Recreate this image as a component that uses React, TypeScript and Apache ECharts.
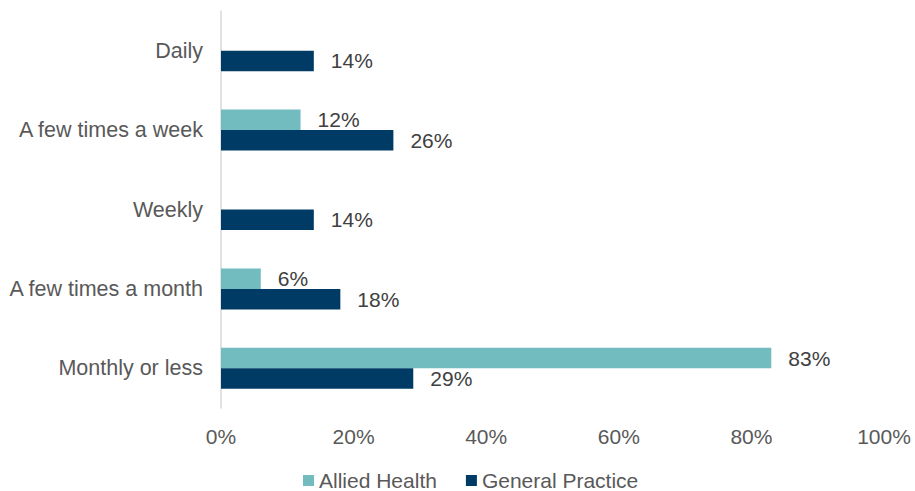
import React, { useEffect, useRef } from "react";
import * as echarts from "echarts";

const categories = ["Daily", "A few times a week", "Weekly", "A few times a month", "Monthly or less"];
const alliedHealth = [null, 12, null, 6, 83];
const generalPractice = [14, 26, 14, 18, 29];
const xTicks = [0, 20, 40, 60, 80, 100];

export default function App() {
  const ref = useRef<HTMLDivElement>(null);
  useEffect(() => {
    if (!ref.current) return;
    const chart = echarts.init(ref.current, null, { renderer: "svg" });
    const font = "'Liberation Sans', Arial, sans-serif";
    const labelCfg = {
      show: true,
      position: "right",
      distance: 17,
      formatter: (p: any) => (p.value == null ? "" : p.value + "%"),
      color: "#404040",
      fontSize: 21,
      fontFamily: font,
    };
    chart.setOption({
      animation: false,
      textStyle: { fontFamily: font },
      grid: { left: 221, right: 31, top: 11, bottom: 83, containLabel: false },
      legend: {
        top: 470,
        left: 298,
        padding: [0, 5, 0, 5],
        itemWidth: 11,
        itemHeight: 11,
        itemGap: 29,
        icon: "rect",
        textStyle: { color: "#595959", fontSize: 21, lineHeight: 21, fontFamily: font },
        data: ["Allied Health", "General Practice"],
      },
      xAxis: {
        type: "value",
        min: xTicks[0],
        max: xTicks[xTicks.length - 1],
        interval: 20,
        splitLine: { show: false },
        axisLine: { show: false },
        axisTick: { show: false },
        axisLabel: { formatter: "{value}%", color: "#595959", fontSize: 21, fontFamily: font, margin: 18 },
      },
      yAxis: {
        type: "category",
        inverse: true,
        data: categories,
        axisLine: { show: true, lineStyle: { color: "#d9d9d9", width: 1.5 } },
        axisTick: { show: false },
        axisLabel: { color: "#595959", fontSize: 21.5, fontFamily: font, margin: 18 },
      },
      series: [
        {
          name: "Allied Health",
          type: "bar",
          data: alliedHealth,
          barWidth: 20.5,
          barGap: "0%",
          itemStyle: { color: "#72BCC0" },
          label: labelCfg,
        },
        {
          name: "General Practice",
          type: "bar",
          data: generalPractice,
          barWidth: 20.5,
          barGap: "0%",
          itemStyle: { color: "#003B66" },
          label: labelCfg,
        },
      ],
    });
    return () => chart.dispose();
  }, []);
  return <div ref={ref} style={{ width: 915, height: 491, position: "absolute", left: 0, top: 0 }} />;
}
